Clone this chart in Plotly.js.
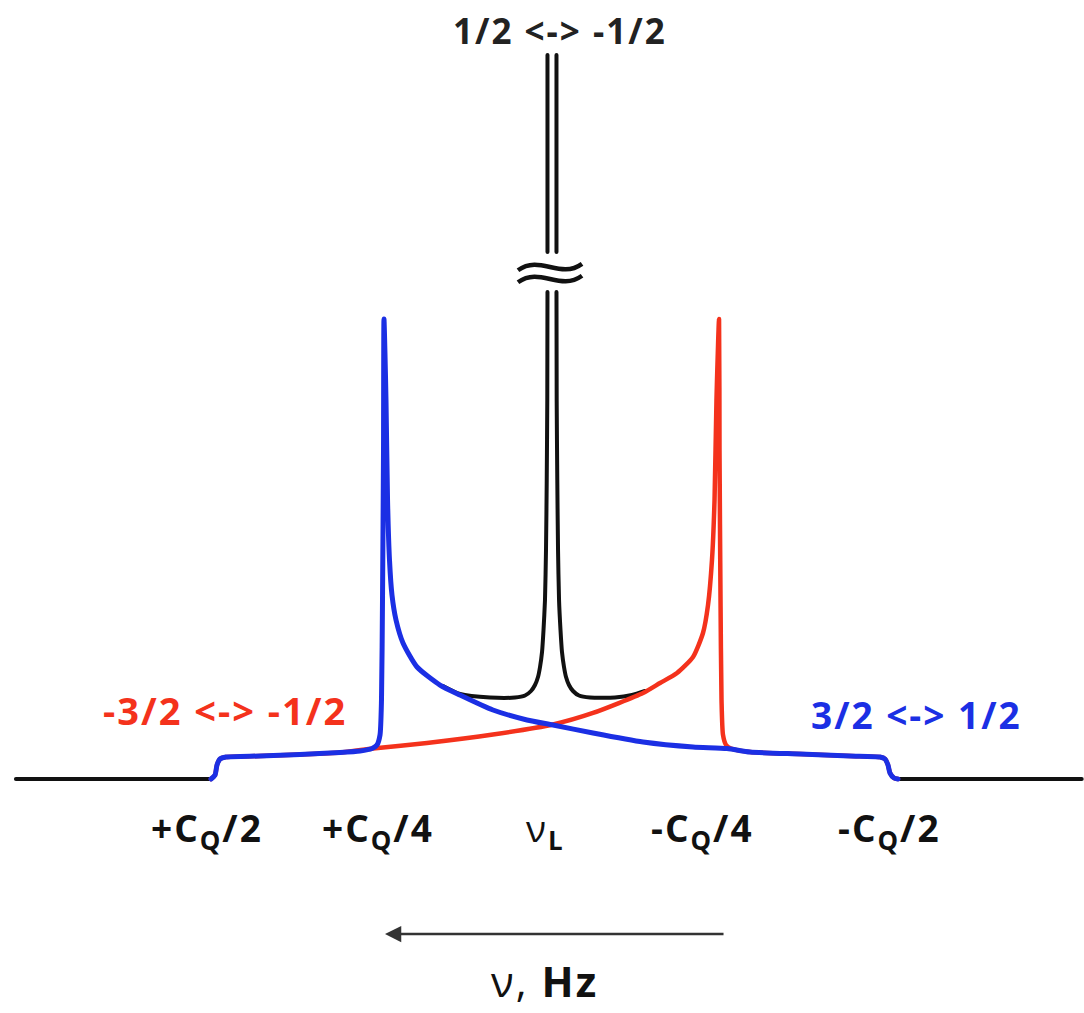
<!DOCTYPE html>
<html>
<head>
<meta charset="utf-8">
<script src="https://cdn.plot.ly/plotly-3.0.1.min.js"></script>
<style>
  html, body { margin: 0; padding: 0; background: #fff; }
  #chart { width: 1084px; height: 1013px; }
  #chart path.js-line { stroke-linejoin: round; stroke-linecap: round; }
  text.annotation-text { letter-spacing: 2px; }
</style>
</head>
<body>
<div id="chart"></div>
<script>
// Spin-3/2 quadrupolar powder pattern.
// x: frequency offset from the Larmor frequency in units of C_Q (high frequency on the left)
// y: intensity in arbitrary units (satellite horn = 100)

// flat baseline outside the satellite span
const baseX = [0.797, 0.5067, null, -0.5156, -0.789];
const baseY = [0, 0, null, 0, 0];

// 3/2 <-> 1/2 satellite (blue)
const blueX = [0.5067, 0.5007, 0.4978, 0.4933, 0.4844, 0.4338, 0.3743, 0.3147, 0.2850, 0.2671,
               0.2597, 0.2552, 0.2530, 0.2515, 0.2500, 0.2493, 0.2463, 0.2440, 0.2411, 0.2374,
               0.2314, 0.2210, 0.2001, 0.1659, 0.1362, 0.0871, 0.0365, -0.0022, -0.0617, -0.1362,
               -0.2106, -0.2612, -0.2954, -0.3698, -0.4442, -0.4888, -0.4963, -0.5007, -0.5037, -0.5097, -0.5156];
const blueY = [0, 0.87, 3.04, 4.35, 4.78, 5.0, 5.33, 5.76, 6.09, 6.63,
               7.39, 9.57, 17.17, 38.91, 71.52, 100, 82.39, 60.65, 47.61, 40.0,
               34.57, 29.57, 24.35, 20.43, 18.26, 15.0, 12.83, 11.74, 10.0, 8.04,
               6.96, 6.63, 5.87, 5.43, 5.0, 4.78, 4.35, 3.04, 1.30, 0.22, 0];

// -3/2 <-> -1/2 satellite (red)
const redX = [0.5067, 0.5007, 0.4978, 0.4933, 0.4844, 0.4338, 0.3743, 0.3147, 0.2656, 0.1853,
              0.0871, -0.0022, -0.0618, -0.1362, -0.1615, -0.1868, -0.2106, -0.2254, -0.2329,
              -0.2388, -0.2426, -0.2455, -0.2493, -0.2500, -0.2515, -0.2530, -0.2552, -0.2597, -0.2671,
              -0.2954, -0.3698, -0.4442, -0.4888, -0.4963, -0.5007, -0.5037, -0.5097, -0.5156];
const redY = [0, 0.87, 3.04, 4.35, 4.78, 5.0, 5.33, 5.76, 6.63, 7.83,
              9.67, 11.85, 14.35, 18.70, 20.87, 23.04, 26.52, 31.74, 37.83,
              47.61, 60.65, 82.39, 100, 71.52, 38.91, 17.17, 9.57, 7.39, 6.63,
              5.87, 5.43, 5.0, 4.78, 4.35, 3.04, 1.30, 0.22, 0];

// 1/2 <-> -1/2 central transition, drawn as its two flanks (null = axis break)
const centralLeftX = [0.1615, 0.1362, 0.0915, 0.0543, 0.0394, 0.0305, 0.0246, 0.0201, 0.0171, 0.0141,
                      0.0119, 0.0097, 0.0082, 0.0071, 0.0063, 0.0060, null, 0.0060, 0.0060];
const centralLeftY = [20.22, 18.48, 17.72, 17.72, 18.15, 19.13, 20.43, 22.17, 24.35, 27.61,
                      32.39, 38.91, 49.78, 65.0, 82.39, 105.87, null, 114.57, 157.39];
const centralRightX = [-0.0074, -0.0074, null, -0.0074, -0.0077, -0.0086, -0.0097, -0.0112, -0.0134, -0.0156,
                       -0.0186, -0.0216, -0.0260, -0.0320, -0.0409, -0.0573, -0.0945, -0.1198, -0.1391];
const centralRightY = [157.39, 114.57, null, 105.87, 82.39, 65.0, 49.78, 38.91, 32.39, 27.61,
                       24.35, 22.17, 20.43, 19.13, 18.15, 17.72, 17.72, 18.26, 19.13];

// axis break on the central line
const breakCenters = [111.3, 108.7];
const breakSpan = [0.0499, -0.0454];

// frequency markers
const tickVals = [0.5, 0.25, 0, -0.25, -0.5];
const tickText = ['<b>+C<sub>Q</sub>/2</b>', '<b>+C<sub>Q</sub>/4</b>', 'ν<sub><b>L</b></sub>',
                  '<b>-C<sub>Q</sub>/4</b>', '<b>-C<sub>Q</sub>/2</b>'];

const BLUE = '#1b2fe4';
const RED = '#f4321c';
const FONT = 'Open Sans, Noto Sans, sans-serif';

const lineTrace = (x, y, color, width) => ({
  x, y, type: 'scatter', mode: 'lines', hoverinfo: 'skip', connectgaps: false,
  line: { color, width, shape: 'spline', smoothing: 0.6 }
});

const centralX = centralLeftX.concat([null], centralRightX);
const centralY = centralLeftY.concat([null], centralRightY);

const traces = [
  lineTrace(baseX, baseY, '#111', 4),
  lineTrace(centralX, centralY, '#111', 4),
  lineTrace(redX, redY, RED, 4.5),
  lineTrace(blueX, blueY, BLUE, 5)
];

// wavy break marks
const [xl, xr] = breakSpan;
const shapes = breakCenters.map(yc => {
  const a = 0.7, k = 2.8;
  const x1 = xl - (xl - xr) * 0.35, x2 = xl - (xl - xr) * 0.65;
  return {
    type: 'path', xref: 'x', yref: 'y',
    path: `M ${xl},${yc - a} C ${x1},${yc + k} ${x2},${yc - k} ${xr},${yc + a}`,
    line: { color: '#111', width: 4.5 }
  };
});

const tickShift = [-9, -6, -6, -17, 2];
const annotations = tickVals.map((v, i) => ({
  x: v, y: -11.1, xref: 'x', yref: 'y', xshift: tickShift[i],
  text: tickText[i], showarrow: false, xanchor: 'center', yanchor: 'middle',
  font: { family: FONT, size: 37, color: '#111' }
}));

annotations.push(
  { xref: 'paper', yref: 'paper', x: 560 / 1084, y: 1 - 31 / 1013, text: '<b>1/2 &lt;-&gt; -1/2</b>',
    showarrow: false, xanchor: 'center', yanchor: 'middle', font: { family: FONT, size: 35, color: '#222' } },
  { xref: 'paper', yref: 'paper', x: 225 / 1084, y: 1 - 710 / 1013, text: '<b>-3/2 &lt;-&gt; -1/2</b>',
    showarrow: false, xanchor: 'center', yanchor: 'middle', font: { family: FONT, size: 38, color: RED } },
  { xref: 'paper', yref: 'paper', x: 916 / 1084, y: 1 - 714 / 1013, text: '<b>3/2 &lt;-&gt; 1/2</b>',
    showarrow: false, xanchor: 'center', yanchor: 'middle', font: { family: FONT, size: 37, color: BLUE } },
  { xref: 'paper', yref: 'paper', x: 544 / 1084, y: 1 - 980 / 1013, text: 'ν, <b>Hz</b>',
    showarrow: false, xanchor: 'center', yanchor: 'middle', font: { family: FONT, size: 42, color: '#111' } },
  // frequency direction arrow
  { xref: 'x', yref: 'y', axref: 'x', ayref: 'y', x: 0.2478, y: -33.7, ax: -0.2582, ay: -33.7,
    text: '', showarrow: true, arrowhead: 2, arrowsize: 1.3, arrowwidth: 2.5, arrowcolor: '#333', standoff: 0 }
);

const hidden = { showgrid: false, zeroline: false, showticklabels: false, showline: false, ticks: '' };

const layout = {
  width: 1084, height: 1013,
  margin: { l: 0, r: 0, t: 0, b: 0 },
  paper_bgcolor: '#fff', plot_bgcolor: '#fff',
  showlegend: false,
  xaxis: Object.assign({ range: [0.8207, -0.7924], fixedrange: true }, hidden),
  yaxis: Object.assign({ range: [-50.87, 169.35], fixedrange: true }, hidden),
  shapes, annotations
};

Plotly.newPlot('chart', traces, layout, { staticPlot: true, displayModeBar: false });
</script>
</body>
</html>
